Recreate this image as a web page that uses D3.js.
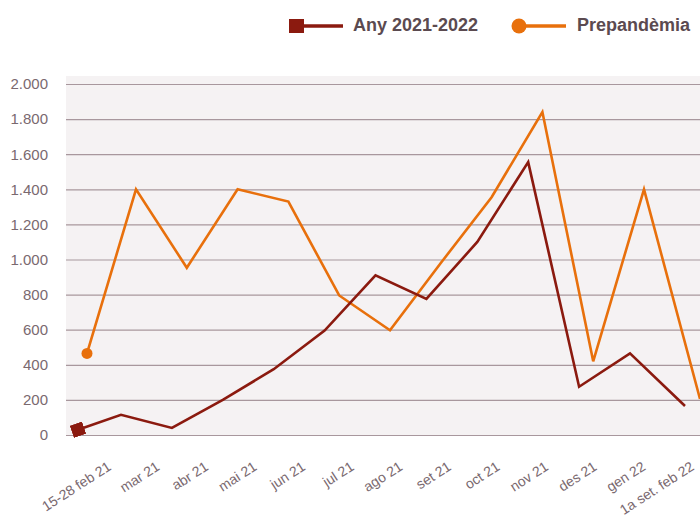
<!DOCTYPE html>
<html>
<head>
<meta charset="utf-8">
<script src="https://cdn.jsdelivr.net/npm/d3@7"></script>
<style>
	body { margin: 0; background: #fff; }
	svg { font-family: "Liberation Sans", Arial, sans-serif; display: block; }
</style>
</head>
<body>
<svg id="chart" width="700" height="518"></svg>
<script>
const months = ['15-28 feb 21', 'mar 21', 'abr 21', 'mai 21', 'jun 21', 'jul 21', 'ago 21',
	'set 21', 'oct 21', 'nov 21', 'des 21', 'gen 22', '1a set. feb 22'];
const any2122 = [30, 115, 40, 200, 375, 595, 910, 775, 1100, 1555, 275, 465, 165];
const prepandemia = [465, 1400, 953, 1400, 1330, 795, 597, 980, 1355, 1840, 420, 1400, 205];
const yTicks = [0, 200, 400, 600, 800, 1000, 1200, 1400, 1600, 1800, 2000];

const red = '#8b1a0f';
const orange = '#e8700c';
const textCol = '#7a696f';

const locale = d3.formatLocale({ decimal: ',', thousands: '.', grouping: [3], currency: ['', '€'] });
const fmt = locale.format(',d');

const svg = d3.select('#chart');

const y = d3.scaleLinear()
	.domain([0, 2000])
	.range([435, 84]);

// first and last points are partial periods, so spacing is not uniform
const xRed = d3.scaleLinear()
	.domain([0, 1, 11, 12])
	.range([78, 121, 630, 685]);

const xOrange = d3.scaleLinear()
	.domain([0, 1, 11, 12])
	.range([87, 136, 644, 700]);

const xLabel = d3.scalePoint()
	.domain(months)
	.range([112, 695]);

svg.append('rect')
	.attr('x', 66)
	.attr('y', 76)
	.attr('width', 634)
	.attr('height', 359)
	.attr('fill', '#f5f2f3');

const yAxis = svg.append('g')
	.attr('transform', 'translate(66,0)')
	.call(d3.axisLeft(y).tickValues(yTicks).tickFormat(fmt).tickSize(-634).tickPadding(18));

yAxis.select('.domain').remove();
yAxis.selectAll('line')
	.attr('stroke', '#a8979d')
	.attr('stroke-width', 1.2);
yAxis.selectAll('text')
	.attr('fill', textCol)
	.attr('font-size', 15);

svg.append('g')
	.selectAll('text')
	.data(months)
	.enter()
	.append('text')
	.attr('transform', d => `translate(${xLabel(d)},469) rotate(-33)`)
	.attr('text-anchor', 'end')
	.attr('font-size', 14)
	.attr('fill', textCol)
	.text(d => d);

const defs = svg.append('defs');
defs.append('marker')
	.attr('id', 'sq')
	.attr('viewBox', '0 0 10 10')
	.attr('refX', 5)
	.attr('refY', 5)
	.attr('markerWidth', 13)
	.attr('markerHeight', 13)
	.attr('markerUnits', 'userSpaceOnUse')
	.attr('orient', 'auto')
	.append('rect')
	.attr('width', 10)
	.attr('height', 10)
	.attr('fill', red);

const clip = defs.append('clipPath').attr('id', 'plot');
clip.append('rect').attr('x', 0).attr('y', 0).attr('width', 700).attr('height', 518);

const lineRed = d3.line()
	.x((d, i) => xRed(i))
	.y(d => y(d));

const lineOrange = d3.line()
	.x((d, i) => xOrange(i))
	.y(d => y(d));

svg.append('path')
	.datum(prepandemia)
	.attr('d', lineOrange)
	.attr('fill', 'none')
	.attr('stroke', orange)
	.attr('stroke-width', 2.6)
	.attr('clip-path', 'url(#plot)');

svg.append('circle')
	.attr('cx', xOrange(0))
	.attr('cy', y(prepandemia[0]))
	.attr('r', 5.5)
	.attr('fill', orange);

svg.append('path')
	.datum(any2122)
	.attr('d', lineRed)
	.attr('fill', 'none')
	.attr('stroke', red)
	.attr('stroke-width', 2.6)
	.attr('marker-start', 'url(#sq)');

// legend
const legend = svg.append('g');

legend.append('line')
	.attr('x1', 300).attr('x2', 343)
	.attr('y1', 26).attr('y2', 26)
	.attr('stroke', red)
	.attr('stroke-width', 3.5);
legend.append('rect')
	.attr('x', 289).attr('y', 19)
	.attr('width', 15).attr('height', 14)
	.attr('fill', red);
legend.append('text')
	.attr('x', 353).attr('y', 31)
	.attr('font-size', 18)
	.attr('font-weight', 'bold')
	.attr('fill', '#5b4a50')
	.text('Any 2021-2022');

legend.append('line')
	.attr('x1', 519).attr('x2', 566)
	.attr('y1', 26).attr('y2', 26)
	.attr('stroke', orange)
	.attr('stroke-width', 3.5);
legend.append('circle')
	.attr('cx', 519).attr('cy', 26)
	.attr('r', 7.5)
	.attr('fill', orange);
legend.append('text')
	.attr('x', 577).attr('y', 31)
	.attr('font-size', 18)
	.attr('font-weight', 'bold')
	.attr('fill', '#5b4a50')
	.text('Prepandèmia');
</script>
</body>
</html>
